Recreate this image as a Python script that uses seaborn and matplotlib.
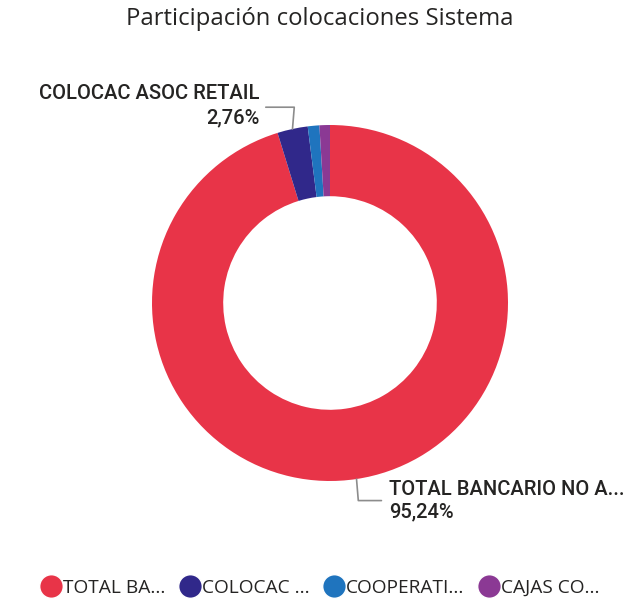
import numpy as np
import matplotlib
matplotlib.use('Agg')
import matplotlib.pyplot as plt
import seaborn as sns
from matplotlib.lines import Line2D

sns.set_theme(style='white')
plt.rcParams['font.family'] = ['Open Sans', 'DejaVu Sans']

# Data
segments = ['TOTAL BANCARIO NO A...', 'COLOCAC ASOC RETAIL', 'COOPERATIVAS', 'CAJAS COMPENSACION']
legend_labels = ['TOTAL BA...', 'COLOCAC ...', 'COOPERATI...', 'CAJAS CO...']
shares = [95.24, 2.76, 1.05, 0.95]
shown_labels = ['95,24%', '2,76%', None, None]
colors = sns.color_palette(['#E83448', '#30288A', '#1F74BE', '#8B3994'])

fig = plt.figure(figsize=(6.39, 6.01), dpi=100)
ax = fig.add_axes([152 / 639, 120 / 601, 356 / 639, 356 / 601])

wedges, _ = ax.pie(shares, colors=colors, startangle=90, counterclock=False,
                   radius=1, wedgeprops=dict(width=0.40, edgecolor='none'))
ax.set_xlim(-1, 1)
ax.set_ylim(-1, 1)
ax.set_aspect('equal')
ax.axis('off')

fig.text(0.5, 0.969, 'Participación colocaciones Sistema', ha='center', va='center',
         fontsize=17.2, color='#252423')

label_font = dict(family=['Roboto', 'DejaVu Sans'], fontsize=14.5, fontweight='medium',
                  color='#252423')
line_kw = dict(color='#8c8c8c', lw=1.2)

# leader lines + labels for the two labelled slices
for w, name, pct in zip(wedges, segments, shown_labels):
    if pct is None:
        continue
    ang = np.deg2rad((w.theta1 + w.theta2) / 2)
    x0, y0 = np.cos(ang), np.sin(ang)
    if y0 > 0:
        x1, y1 = x0 + 0.01, 1.10
        x2 = x1 - 0.16
        ax.plot([x0, x1, x2], [y0, y1, y1], clip_on=False, **line_kw)
        ax.text(x2 - 0.035, y1 + 0.075, name, ha='right', va='center', **label_font)
        ax.text(x2 - 0.035, y1 - 0.06, pct, ha='right', va='center', **label_font)
    else:
        x1, y1 = x0 + 0.01, -1.11
        x2 = x1 + 0.13
        ax.plot([x0, x1, x2], [y0, y1, y1], clip_on=False, **line_kw)
        ax.text(x2 + 0.045, y1 + 0.06, name, ha='left', va='center', **label_font)
        ax.text(x2 + 0.045, y1 - 0.065, pct, ha='left', va='center', **label_font)

handles = [Line2D([0], [0], marker='o', color='w', markerfacecolor=c, markersize=17, lw=0)
           for c in colors]
fig.legend(handles, legend_labels, loc='lower center', bbox_to_anchor=(0.5, -0.022), ncol=4,
           frameon=False, fontsize=13.8, handletextpad=0.0, columnspacing=0.7,
           handlelength=1.2, labelcolor='#252423')

fig.savefig('out.png', dpi=100)
